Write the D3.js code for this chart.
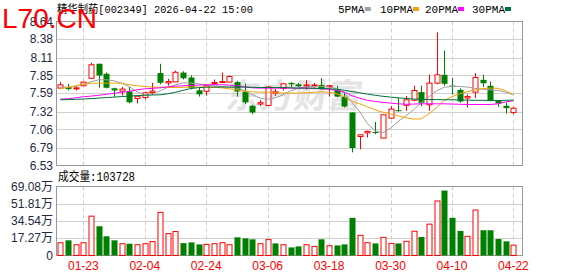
<!DOCTYPE html>
<html>
<head>
<meta charset="utf-8">
<script src="https://cdn.jsdelivr.net/npm/d3@7"></script>
<style>
  body { margin: 0; background: #fff; }
  svg { display: block; }
</style>
</head>
<body>
<svg id="chart" width="578" height="276"></svg>
<script>
var dates = ["01-20","01-21","01-22","01-23","01-26","01-27","01-28","01-29","01-30","02-02",
  "02-03","02-04","02-05","02-06","02-09","02-10","02-11","02-12","02-13","02-24",
  "02-25","02-26","02-27","03-02","03-03","03-04","03-05","03-06","03-09","03-10",
  "03-11","03-12","03-13","03-16","03-17","03-18","03-19","03-20","03-23","03-24",
  "03-25","03-26","03-27","03-30","03-31","04-01","04-02","04-03","04-07","04-08",
  "04-09","04-10","04-13","04-14","04-15","04-16","04-17","04-20","04-21","04-22"];

var open = [7.664,7.679,7.660,7.698,7.808,8.020,7.874,7.661,7.620,7.614,
  7.512,7.526,7.600,7.884,7.740,7.756,7.891,7.819,7.632,7.617,
  7.730,7.750,7.752,7.752,7.614,7.405,7.430,7.410,7.590,7.661,
  7.740,7.720,7.700,7.700,7.710,7.690,7.640,7.537,7.307,6.955,
  7.009,7.020,6.931,7.224,7.340,7.412,7.488,7.605,7.420,7.737,
  7.859,7.700,7.639,7.520,7.605,7.785,7.698,7.480,7.405,7.307];
var high = [7.752,7.727,7.702,7.760,8.035,8.025,7.893,7.670,7.680,7.680,
  7.545,7.610,7.740,8.020,7.800,7.920,7.910,7.850,7.680,7.720,
  7.790,7.890,7.850,7.770,7.730,7.420,7.490,7.690,7.650,7.740,
  7.750,7.740,7.780,7.740,7.810,7.710,7.700,7.600,7.310,6.980,
  7.040,7.170,7.280,7.400,7.520,7.550,7.700,7.700,7.860,8.482,
  8.211,7.810,7.660,7.570,7.884,7.860,7.760,7.480,7.450,7.390];
var low = [7.660,7.629,7.629,7.695,7.800,7.669,7.660,7.537,7.556,7.440,
  7.440,7.500,7.565,7.720,7.700,7.750,7.790,7.645,7.540,7.556,
  7.710,7.740,7.750,7.540,7.430,7.280,7.400,7.400,7.550,7.630,
  7.680,7.680,7.640,7.670,7.640,7.540,7.530,7.380,6.723,6.767,
  6.940,6.990,6.930,7.210,7.320,7.330,7.470,7.400,7.330,7.720,
  7.698,7.570,7.450,7.380,7.520,7.680,7.470,7.390,7.290,7.280];
var close = [7.712,7.649,7.668,7.752,8.006,7.849,7.669,7.630,7.650,7.456,
  7.544,7.595,7.620,7.742,7.760,7.896,7.808,7.664,7.573,7.698,
  7.745,7.760,7.834,7.614,7.455,7.307,7.450,7.680,7.610,7.727,
  7.720,7.690,7.710,7.710,7.650,7.700,7.540,7.394,6.786,6.980,
  7.030,7.010,7.273,7.356,7.330,7.493,7.629,7.449,7.737,7.859,
  7.727,7.690,7.468,7.540,7.819,7.735,7.482,7.440,7.370,7.369];

var ma5 = [7.679,7.679,7.690,7.727,7.757,7.786,7.786,7.771,7.735,7.683,
  7.610,7.566,7.581,7.625,7.676,7.713,7.742,7.737,7.727,7.713,
  7.698,7.688,7.679,7.664,7.625,7.566,7.518,7.500,7.522,7.566,
  7.625,7.661,7.683,7.688,7.688,7.683,7.654,7.595,7.449,7.317,
  7.141,7.039,7.009,7.078,7.175,7.258,7.346,7.449,7.537,7.625,
  7.676,7.688,7.688,7.679,7.661,7.647,7.639,7.629,7.603,7.566];
var ma10 = [7.654,7.676,7.698,7.720,7.735,7.737,7.737,7.737,7.735,7.713,
  7.698,7.688,7.679,7.676,7.673,7.673,7.676,7.679,7.679,7.679,
  7.676,7.668,7.654,7.639,7.617,7.610,7.606,7.603,7.595,7.591,
  7.591,7.591,7.595,7.603,7.610,7.603,7.581,7.537,7.468,7.434,
  7.390,7.346,7.310,7.288,7.258,7.229,7.210,7.214,7.288,7.376,
  7.485,7.537,7.581,7.610,7.639,7.658,7.664,7.661,7.625,7.566];
var ma20 = [7.503,7.507,7.522,7.537,7.547,7.559,7.573,7.588,7.603,7.617,
  7.639,7.654,7.661,7.668,7.683,7.693,7.698,7.702,7.708,7.713,
  7.713,7.713,7.708,7.698,7.683,7.668,7.664,7.664,7.664,7.664,
  7.664,7.664,7.664,7.661,7.654,7.647,7.632,7.603,7.551,7.515,
  7.485,7.468,7.456,7.444,7.434,7.427,7.430,7.434,7.434,7.434,
  7.434,7.430,7.427,7.424,7.424,7.424,7.424,7.434,7.463,7.478];
var ma30 = [7.493,7.496,7.500,7.503,7.510,7.518,7.525,7.532,7.540,7.547,
  7.554,7.559,7.563,7.566,7.581,7.603,7.632,7.658,7.671,7.679,
  7.679,7.679,7.679,7.679,7.679,7.676,7.673,7.673,7.673,7.673,
  7.668,7.664,7.664,7.661,7.658,7.654,7.647,7.632,7.614,7.595,
  7.576,7.559,7.544,7.532,7.522,7.512,7.503,7.500,7.497,7.497,
  7.493,7.493,7.490,7.488,7.485,7.485,7.482,7.482,7.485,7.488];

// volume in 万 (10k shares), volUp: 1 = red bar, 0 = green bar
var volume = [12.8,15.2,10.8,12.8,39.4,29.3,19.2,15.2,11.8,11.8,
  10.8,11.8,13.9,43.2,21.9,24.0,12.4,13.1,11.1,11.1,
  11.8,12.8,10.8,18.2,17.2,16.2,11.8,15.9,12.1,10.8,
  8.1,9.1,10.8,9.1,16.2,9.8,10.1,11.1,37.7,20.2,
  12.8,12.1,18.2,12.1,12.1,14.2,24.3,18.5,31.4,54.6,
  65.0,37.7,24.6,19.2,45.5,25.3,25.3,16.5,14.2,10.3728];
var volUp = [1,0,1,1,1,0,0,0,1,0, 1,1,1,1,1,1,0,0,0,1,
  1,1,1,0,0,0,1,1,0,1, 0,0,1,1,0,1,0,0,0,1,
  1,0,1,1,0,1,1,0,1,1, 0,0,0,1,1,0,0,0,0,1];

var priceTicks = [6.53, 6.79, 7.06, 7.32, 7.59, 7.85, 8.11, 8.38, 8.64];
var volTicks = [0, 17.27, 34.54, 51.81, 69.08];
var dateTicks = ["01-23","02-04","02-24","03-06","03-18","03-30","04-10","04-22"];

var maNames = ["5PMA", "10PMA", "20PMA", "30PMA"];
var maColors = ["#a0a0a0", "#f0a30a", "#ff00ff", "#00703a"];
var RED = "#ff0000", GREEN = "#008000";

var svg = d3.select("#chart");
var left = 56, right = 522;
var pTop = 21.5, pBot = 165.5, vTop = 186.5, vBot = 255.5;

var x = d3.scalePoint().domain(dates).range([60.3, 513.4]);
var y = d3.scaleLinear().domain([6.53, 8.64]).range([pBot, pTop]);
var yv = d3.scaleLinear().domain([0, 69.08]).range([vBot, vTop]);

svg.append("rect").attr("width", 578).attr("height", 276).attr("fill", "#fff");

// watermark in the price panel
svg.append("text")
  .attr("x", 226).attr("y", 108)
  .attr("font-family", "Noto Sans CJK SC").attr("font-size", 34).attr("font-weight", "bold")
  .attr("fill", "#e4e4e4")
  .attr("transform", "skewX(-8) translate(14,0)")
  .text("东方财富");

// grid
function hGrid(scale, vals) {
  svg.append("g").selectAll("line").data(vals).enter().append("line")
    .attr("x1", left).attr("x2", right)
    .attr("y1", function(d) { return Math.round(scale(d)) + 0.5; })
    .attr("y2", function(d) { return Math.round(scale(d)) + 0.5; })
    .attr("stroke", "#d0d0d0");
}
hGrid(y, priceTicks.slice(1, -1));
hGrid(yv, volTicks.slice(1, -1));

var vg = svg.append("g");
[[pTop, pBot], [vTop, vBot]].forEach(function(r) {
  vg.append("g").selectAll("line").data(dateTicks).enter().append("line")
    .attr("x1", function(d) { return Math.round(x(d)) + 0.5; })
    .attr("x2", function(d) { return Math.round(x(d)) + 0.5; })
    .attr("y1", r[0]).attr("y2", r[1])
    .attr("stroke", "#cfcfcf").attr("stroke-dasharray", "4,3");
});

// panel frames
[[pTop, pBot], [vTop, vBot]].forEach(function(r) {
  svg.append("rect")
    .attr("x", left + 0.5).attr("y", r[0]).attr("width", right - left).attr("height", r[1] - r[0])
    .attr("fill", "none").attr("stroke", "#999");
});

// candles
var candles = svg.append("g").selectAll("g").data(dates).enter().append("g");
candles.each(function(d, i) {
  var g = d3.select(this);
  var cx = Math.round(x(d)) + 0.5;
  var up = close[i] >= open[i];
  var top = y(Math.max(open[i], close[i])), bot = y(Math.min(open[i], close[i]));
  var h = Math.max(1, bot - top);
  if (up) {
    g.append("line").attr("x1", cx).attr("x2", cx).attr("y1", y(high[i])).attr("y2", top).attr("stroke", RED);
    g.append("line").attr("x1", cx).attr("x2", cx).attr("y1", top + h).attr("y2", y(low[i])).attr("stroke", RED);
    g.append("rect").attr("x", cx - 2.5).attr("y", top).attr("width", 5).attr("height", h)
      .attr("fill", "#fff").attr("stroke", RED);
  } else {
    g.append("line").attr("x1", cx).attr("x2", cx).attr("y1", y(high[i])).attr("y2", y(low[i])).attr("stroke", GREEN);
    g.append("rect").attr("x", cx - 3).attr("y", top).attr("width", 6).attr("height", h).attr("fill", GREEN);
  }
});

// moving averages
var line = d3.line()
  .x(function(d, i) { return x(dates[i]); })
  .y(function(d) { return y(d); });
[ma5, ma10, ma20, ma30].forEach(function(s, k) {
  svg.append("path").datum(s).attr("d", line)
    .attr("fill", "none").attr("stroke", maColors[k]).attr("stroke-width", 1);
});

// volume bars
svg.append("g").selectAll("rect").data(volume).enter().append("rect")
  .attr("x", function(d, i) { return Math.round(x(dates[i])) + (volUp[i] ? -2 : -2.5); })
  .attr("y", function(d) { return yv(d); })
  .attr("width", function(d, i) { return volUp[i] ? 5 : 6; })
  .attr("height", function(d) { return vBot - yv(d); })
  .attr("fill", function(d, i) { return volUp[i] ? "#fff" : GREEN; })
  .attr("stroke", function(d, i) { return volUp[i] ? RED : "none"; });

// axis labels
var font = "Liberation Sans, Arial, sans-serif";
svg.append("g").selectAll("text").data(priceTicks).enter().append("text")
  .attr("x", 53).attr("y", function(d) { return y(d); }).attr("dy", "0.35em")
  .attr("text-anchor", "end").attr("font-family", font).attr("font-size", 12).attr("fill", "#1f2a44")
  .text(function(d) { return d.toFixed(2); });
svg.append("g").selectAll("text").data(volTicks).enter().append("text")
  .attr("x", 53).attr("y", function(d) { return yv(d); }).attr("dy", "0.35em")
  .attr("text-anchor", "end").attr("font-family", font + ", Noto Sans CJK SC").attr("font-size", 12).attr("fill", "#1f2a44")
  .text(function(d) { return d === 0 ? "0" : d.toFixed(2) + "万"; });
svg.append("g").selectAll("text").data(dateTicks).enter().append("text")
  .attr("x", function(d) { return x(d); }).attr("y", 270)
  .attr("text-anchor", "middle").attr("font-family", font).attr("font-size", 12).attr("fill", RED)
  .text(function(d) { return d; });

// header texts
var mono = "Liberation Mono, Noto Sans CJK SC";
svg.append("text").attr("x", 57).attr("y", 13)
  .attr("font-family", mono).attr("font-size", 11.5).attr("fill", "#000")
  .attr("textLength", 196).attr("lengthAdjust", "spacingAndGlyphs")
  .text("精华制药[002349] 2026-04-22 15:00");
svg.append("text").attr("x", 58).attr("y", 181)
  .attr("font-family", mono).attr("font-size", 12).attr("fill", "#000")
  .attr("textLength", 77).attr("lengthAdjust", "spacingAndGlyphs")
  .text("成交量:" + Math.round(volume[volume.length - 1] * 10000));

var legendX = [338, 380, 425, 472];
var legend = svg.append("g").selectAll("g").data(maNames).enter().append("g");
legend.append("text")
  .attr("x", function(d, i) { return legendX[i]; }).attr("y", 12.5)
  .attr("font-family", mono).attr("font-size", 11).attr("fill", "#000")
  .text(function(d) { return d; });
legend.append("rect")
  .attr("x", function(d, i) { return legendX[i] + (d.length * 6.2) + 2; }).attr("y", 7)
  .attr("width", 6).attr("height", 4)
  .attr("fill", function(d, i) { return maColors[i]; });

// site mark
svg.append("text").attr("x", 2).attr("y", 28)
  .attr("font-family", "Liberation Sans, Arial, sans-serif").attr("font-size", 28)
  .attr("fill", "#ff0000").text("L70.CN");
</script>
</body>
</html>
